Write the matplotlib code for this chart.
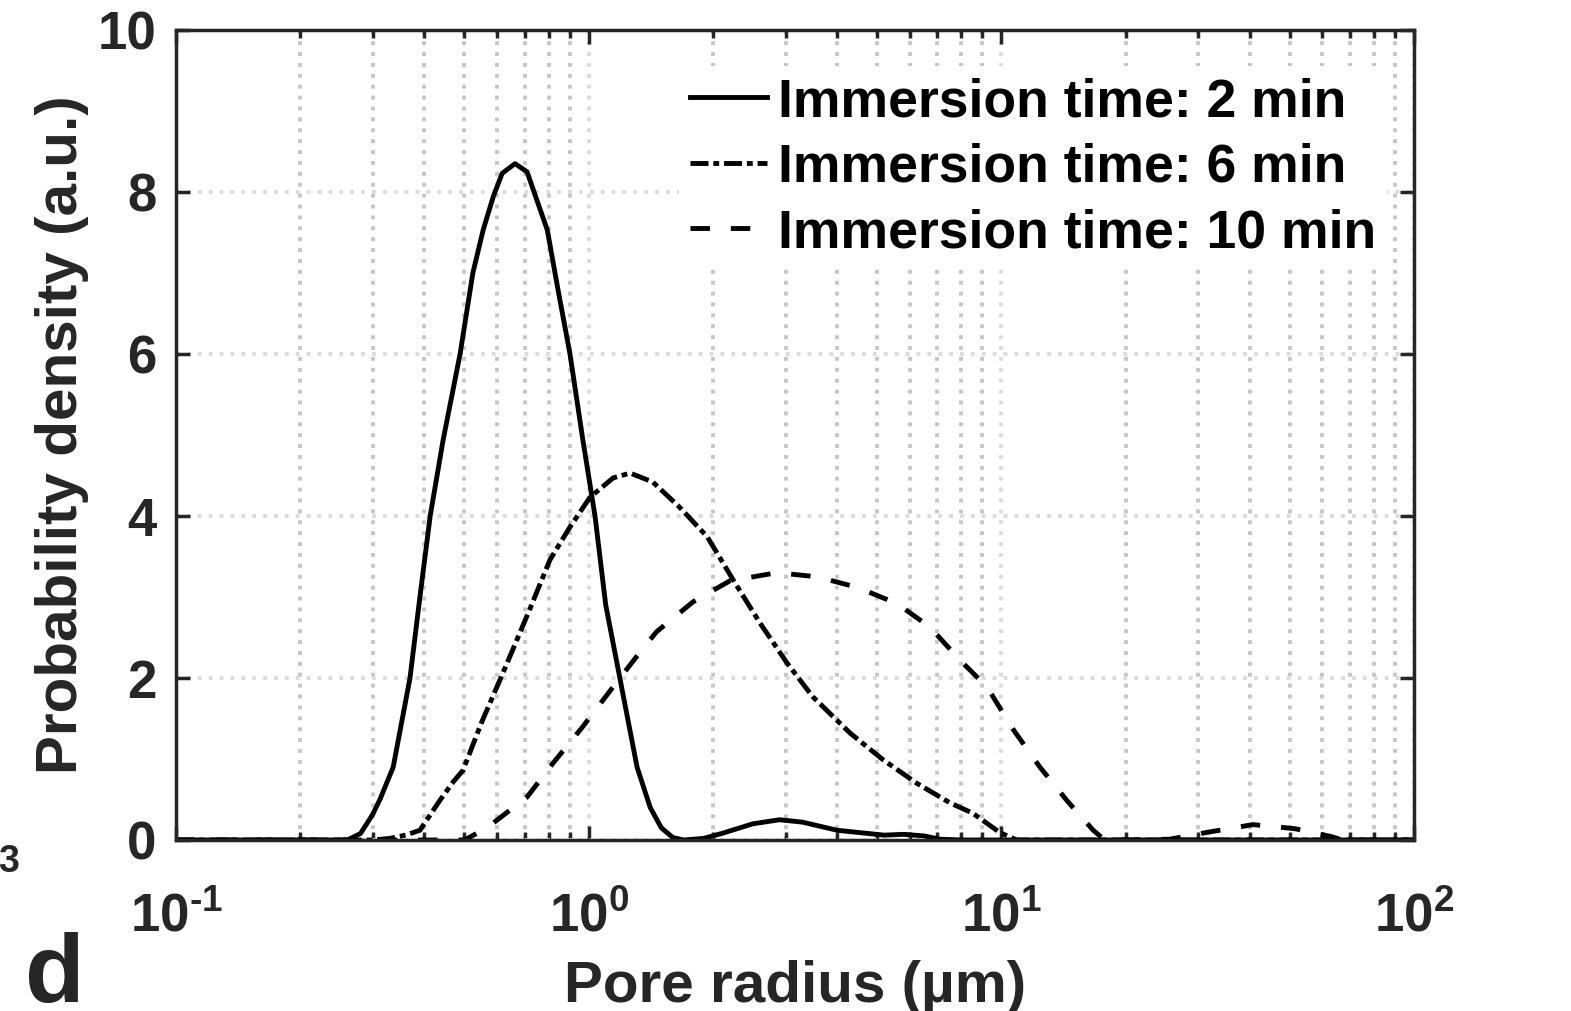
import matplotlib
matplotlib.use('Agg')
from matplotlib import pyplot as plt
import numpy as np

plt.rcParams['font.family'] = ['Liberation Sans', 'DejaVu Sans']
plt.rcParams['font.weight'] = 'bold'
plt.rcParams['mathtext.fontset'] = 'custom'
plt.rcParams['mathtext.rm'] = 'Liberation Sans:bold'
plt.rcParams['mathtext.bf'] = 'Liberation Sans:bold'

AX_COLOR = '#262626'

# pore radius (um) / probability density (a.u.)
r_2min = [0.1, 0.26, 0.28, 0.30, 0.312, 0.336, 0.369, 0.39, 0.413, 0.444, 0.488, 0.524,
          0.555, 0.587, 0.617, 0.663, 0.709, 0.749, 0.794, 0.843, 0.901, 0.968,
          1.036, 1.1, 1.19, 1.31, 1.41, 1.5, 1.6, 1.7, 1.9, 2.1, 2.5, 2.9, 3.3,
          4.0, 5.2, 5.8, 6.5, 7.1, 8.0, 100]
p_2min = [0.0, 0.0, 0.08, 0.32, 0.5, 0.9, 2.0, 3.0, 4.0, 4.94, 6.0, 7.0,
          7.53, 7.94, 8.23, 8.35, 8.25, 7.9, 7.53, 6.79, 6.0, 4.94,
          4.0, 2.9, 2.0, 0.9, 0.4, 0.15, 0.03, 0.0, 0.02, 0.08, 0.2, 0.25, 0.22,
          0.12, 0.06, 0.07, 0.05, 0.01, 0.0, 0.0]

r_6min = [0.1, 0.30, 0.33, 0.36, 0.39, 0.436, 0.47, 0.496, 0.55, 0.61, 0.67,
          0.72, 0.806, 0.90, 1.007, 1.146, 1.26, 1.43, 1.66, 1.94, 2.24, 2.60,
          3.02, 3.49, 4.30, 5.17, 6.24, 7.5, 8.53, 9.93, 10.9, 100]
p_6min = [0.0, 0.0, 0.02, 0.06, 0.12, 0.49, 0.72, 0.86, 1.45, 1.98, 2.47,
          2.85, 3.46, 3.86, 4.23, 4.47, 4.53, 4.42, 4.11, 3.74, 3.21, 2.68,
          2.19, 1.77, 1.32, 0.99, 0.70, 0.46, 0.33, 0.09, 0.0, 0.0]

r_10min = [0.1, 0.50, 0.567, 0.63, 0.709, 0.82, 0.968, 1.146, 1.30, 1.46, 1.79,
           2.2, 2.86, 3.57, 4.47, 5.58, 6.71, 7.94, 9.23, 10.7, 12.4, 14.4,
           16.7, 17.8, 20.1, 25.6, 32.0, 40.7, 51.4, 63.3, 67.0, 100]
p_10min = [0.0, 0.0, 0.15, 0.33, 0.53, 0.95, 1.40, 1.89, 2.25, 2.57, 2.94,
           3.2, 3.30, 3.25, 3.12, 2.92, 2.63, 2.22, 1.89, 1.36, 0.90, 0.49,
           0.12, 0.0, 0.0, 0.01, 0.10, 0.19, 0.14, 0.04, 0.0, 0.0]

labels = ['Immersion time: 2 min', 'Immersion time: 6 min', 'Immersion time: 10 min']

x_ticks = [0.1, 1, 10, 100]
x_tick_labels = ['$\\mathbf{10^{\u2010 1}}$', r'$\mathbf{10^{0}}$',
                 r'$\mathbf{10^{1}}$', r'$\mathbf{10^{2}}$']
y_ticks = [0, 2, 4, 6, 8, 10]

fig = plt.figure(figsize=(15.71, 10.11), dpi=100)
ax = fig.add_axes([176 / 1571, 1 - 840 / 1011, (1414 - 176) / 1571, (840 - 30) / 1011])

lw = 3.5
ax.plot(r_2min, p_2min, color='black', lw=lw, ls='-', label=labels[0])
ax.plot(r_6min, p_6min, color='black', lw=lw, ls=(0, (3.7, 1.0, 1.2, 1.0)), label=labels[1])
ax.plot(r_10min, p_10min, color='black', lw=lw, ls=(0, (4.0, 4.3)), label=labels[2])

ax.set_xscale('log')
ax.set_xlim(0.1, 100)
ax.set_ylim(0, 10)
ax.set_xticks(x_ticks)
ax.set_xticklabels(x_tick_labels)
ax.set_yticks(y_ticks)

ax.grid(True, which='major', axis='both', color='#dcdcdc', lw=2.8, ls=(0, (1, 1.8)))
ax.grid(True, which='minor', axis='x', color='#c6c6c6', lw=2.8, ls=(0, (1, 1.8)))
ax.set_axisbelow(True)

for sp in ax.spines.values():
    sp.set_linewidth(2.5)
    sp.set_color(AX_COLOR)
ax.tick_params(which='both', direction='in', top=True, right=True, color=AX_COLOR,
               labelcolor=AX_COLOR, labelsize=38, width=2.5)
ax.tick_params(which='major', length=10)
ax.tick_params(which='minor', length=6)
ax.tick_params(axis='x', which='major', pad=38)
ax.tick_params(axis='y', which='major', pad=14)
ax.tick_params(axis='x', which='minor', labelbottom=False)

ax.set_xlabel('Pore radius (µm)', fontsize=42, fontweight='bold', color=AX_COLOR, labelpad=12)
ax.set_ylabel('Probability density (a.u.)', fontsize=42, fontweight='bold', color=AX_COLOR, labelpad=6)

leg = ax.legend(loc='upper right', bbox_to_anchor=(0.978, 0.955), fontsize=38.5,
                frameon=True, fancybox=False, edgecolor='none', facecolor='white',
                framealpha=1.0, handlelength=1.45, handletextpad=0.2,
                labelspacing=0.29, borderpad=0.2, borderaxespad=0.0)
for txt in leg.get_texts():
    txt.set_color('black')
    txt.set_fontweight('bold')

fig.text(-0.001, 1 - 862 / 1011, '3', fontsize=27, fontweight='bold', color=AX_COLOR,
         ha='left', va='center')
fig.text(0.016, 0.009, 'd', fontsize=70, fontweight='bold', color=AX_COLOR,
         ha='left', va='baseline')

fig.savefig('out.png', dpi=100)
